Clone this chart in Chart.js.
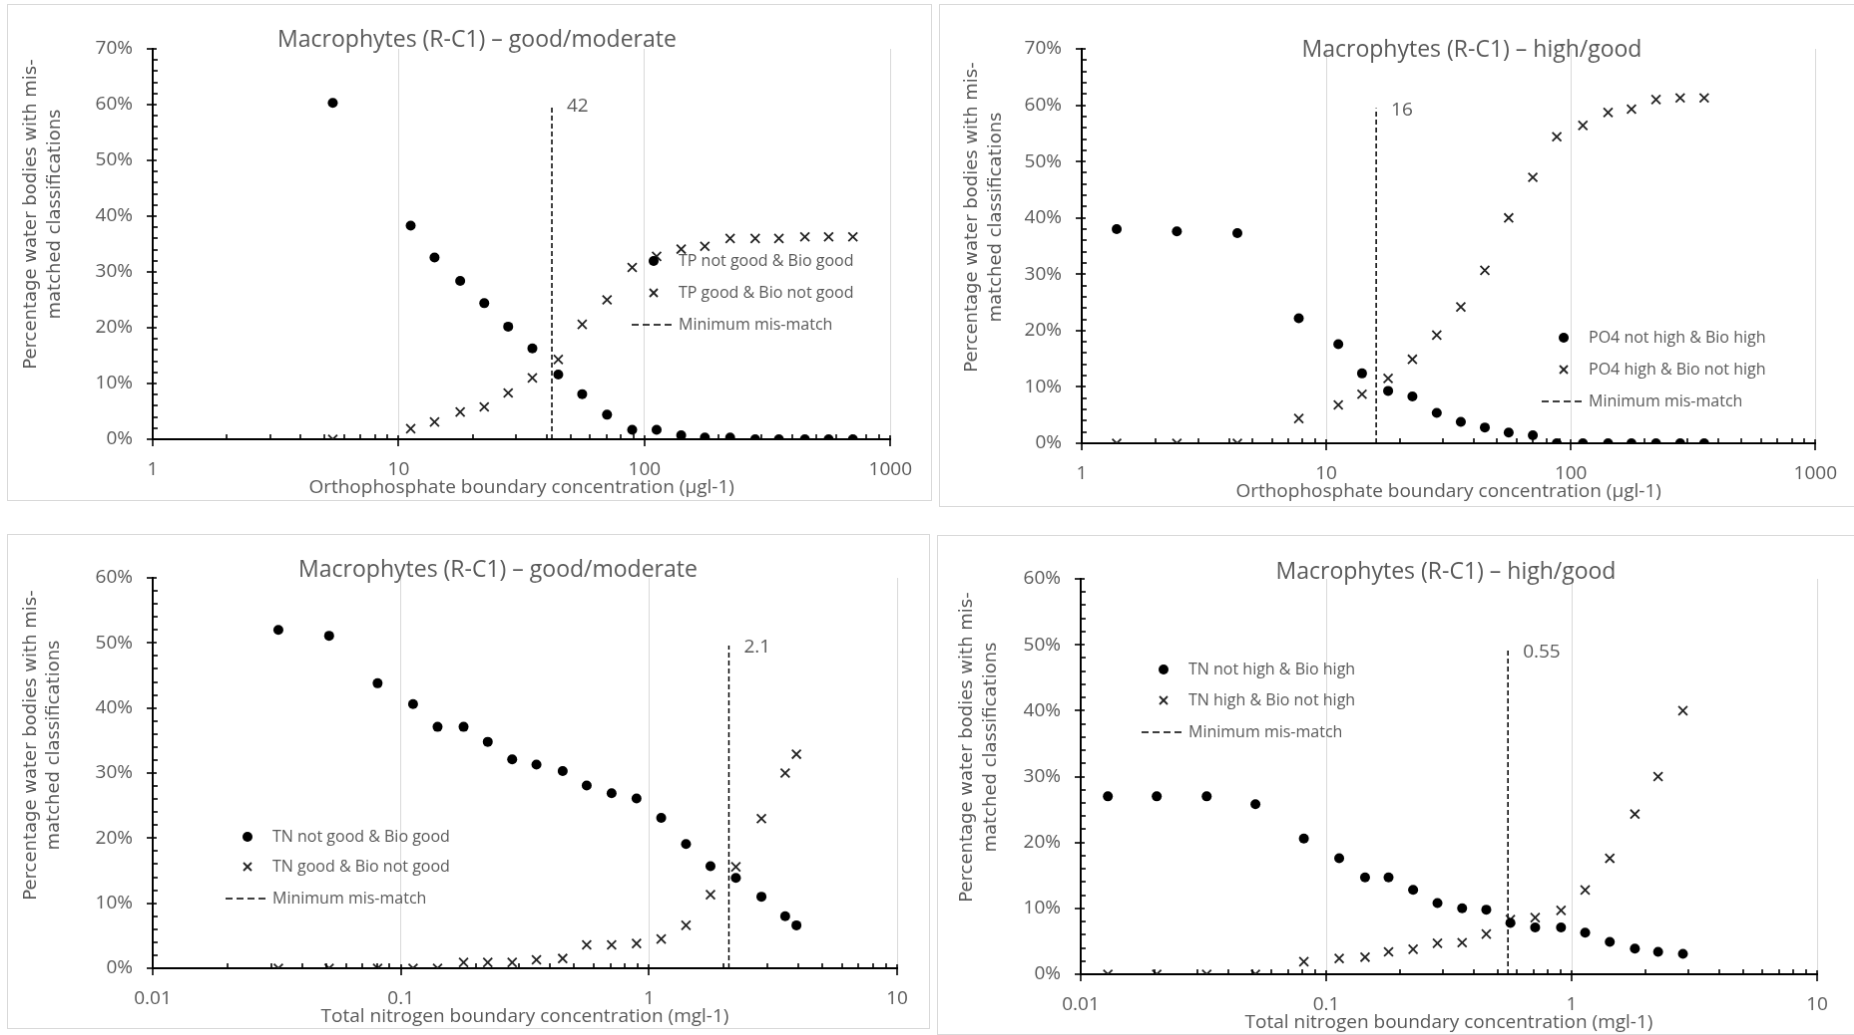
<!DOCTYPE html>
<html>
<head>
<meta charset="utf-8">
<title>Macrophytes mis-match</title>
<script src="https://cdn.jsdelivr.net/npm/chart.js@4.4.1/dist/chart.umd.min.js"></script>
<style>
  html, body { margin: 0; padding: 0; background: #fff; overflow: hidden; }
  body { width: 1854px; height: 1035px; position: relative; }
  canvas { position: absolute; border: 1px solid #d9d9d9; }
</style>
</head>
<body>
<canvas id="tpGood" width="925" height="497" style="left:7px;top:4px"></canvas>
<canvas id="tpHigh" width="918" height="503" style="left:939px;top:4px"></canvas>
<canvas id="tnGood" width="923" height="495" style="left:7px;top:534px"></canvas>
<canvas id="tnHigh" width="920" height="500" style="left:937px;top:535px"></canvas>
<script>
// Mis-match charts: macrophytes vs nutrient boundaries

// Top left - orthophosphate, good/moderate
const tpGoodX = [5.4, 11.2, 14.0, 17.8, 22.3, 27.9, 35.0, 44.6, 55.8, 70.4, 89.1, 112, 141, 176, 223, 282, 352, 449, 561, 704];
const tpNotGoodBioGood = [60.3, 38.3, 32.6, 28.4, 24.4, 20.2, 16.3, 11.6, 8.1, 4.4, 1.7, 1.7, 0.7, 0.3, 0.3, 0, 0, 0, 0, 0];
const tpGoodBioNotGood = [0, 1.9, 3.1, 4.9, 5.8, 8.3, 11.0, 14.3, 20.6, 25.0, 30.8, 32.8, 34.1, 34.6, 36.0, 36.0, 36.0, 36.3, 36.3, 36.3];
const tpGoodMin = [42, 60];

// Top right - orthophosphate, high/good
const tpHighX = [1.39, 2.45, 4.33, 7.72, 11.2, 14.0, 17.9, 22.5, 28.3, 35.5, 44.5, 55.7, 69.9, 87.6, 112, 142, 177, 223, 280, 351];
const po4NotHighBioHigh = [38.0, 37.6, 37.3, 22.2, 17.6, 12.4, 9.3, 8.3, 5.4, 3.8, 2.8, 1.9, 1.4, 0, 0, 0, 0, 0, 0, 0];
const po4HighBioNotHigh = [0, 0, 0, 4.4, 6.8, 8.7, 11.5, 14.9, 19.2, 24.2, 30.7, 40.0, 47.2, 54.4, 56.4, 58.7, 59.3, 61.0, 61.3, 61.3];
const tpHighMin = [16, 59.5];

// Bottom left - total nitrogen, good/moderate
const tnGoodX = [0.0321, 0.0514, 0.0806, 0.112, 0.1406, 0.179, 0.224, 0.281, 0.352, 0.449, 0.561, 0.707, 0.891, 1.12, 1.41, 1.77, 2.24, 2.84, 3.54, 3.93];
const tnNotGoodBioGood = [52.0, 51.1, 43.8, 40.6, 37.1, 37.1, 34.8, 32.1, 31.3, 30.3, 28.1, 26.9, 26.1, 23.1, 19.1, 15.7, 13.9, 11.0, 8.0, 6.6];
const tnGoodBioNotGood = [0, 0, 0, 0, 0, 0.9, 0.9, 0.9, 1.3, 1.5, 3.6, 3.6, 3.8, 4.5, 6.6, 11.3, 15.6, 23.0, 30.0, 32.9];
const tnGoodMin = [2.1, 49.6];

// Bottom right - total nitrogen, high/good
const tnHighX = [0.0129, 0.0204, 0.0326, 0.0515, 0.0811, 0.113, 0.144, 0.1795, 0.226, 0.284, 0.358, 0.449, 0.563, 0.710, 0.905, 1.135, 1.43, 1.81, 2.25, 2.84];
const tnNotHighBioHigh = [27.0, 27.0, 27.0, 25.8, 20.6, 17.6, 14.7, 14.7, 12.8, 10.8, 10.0, 9.8, 7.8, 7.1, 7.1, 6.3, 4.9, 3.9, 3.4, 3.1];
const tnHighBioNotHigh = [0, 0, 0, 0, 1.9, 2.4, 2.6, 3.4, 3.8, 4.7, 4.8, 6.1, 8.3, 8.6, 9.7, 12.8, 17.6, 24.3, 30.0, 40.0];
const tnHighMin = [0.55, 49.2];

// Axis ticks
const phosTicks = [1, 10, 100, 1000];
const nitroTicks = [0.01, 0.1, 1, 10];

const yTitle = ['Percentage water bodies with mis-', 'matched classifications'];
const phosTitle = 'Orthophosphate boundary concentration (µgl-1)';
const nitroTitle = 'Total nitrogen boundary concentration (mgl-1)';

const GREY = '#595959';
Chart.defaults.font.family = "'Open Sans', sans-serif";
Chart.defaults.color = GREY;

function toPoints(xs, ys) {
    return xs.map((x, i) => ({ x: x, y: ys[i] }));
}

function line(ctx, x1, y1, x2, y2) {
    ctx.beginPath();
    ctx.moveTo(x1, y1);
    ctx.lineTo(x2, y2);
    ctx.stroke();
}

// Extra drawing: tick marks, title, y title, legend, boundary label
const decorPlugin = {
    id: 'decor',
    afterDraw(chart, args, opts) {
        const ctx = chart.ctx;
        const xs = chart.scales.x;
        const ys = chart.scales.y;
        const area = chart.chartArea;
        ctx.save();

        // log axis tick marks
        ctx.strokeStyle = '#000';
        ctx.lineWidth = 1.6;
        const lo = Math.round(Math.log10(xs.min));
        const hi = Math.round(Math.log10(xs.max));
        for (let e = lo; e <= hi; e++) {
            const d = Math.pow(10, e);
            const px = Math.round(xs.getPixelForValue(d));
            line(ctx, px, area.bottom - 4, px, area.bottom + 7);
            if (e === hi) continue;
            for (let m = 2; m <= 9; m++) {
                const mx = Math.round(xs.getPixelForValue(d * m));
                line(ctx, mx, area.bottom - 5, mx, area.bottom);
            }
        }
        // percentage axis tick marks
        for (let v = 0; v <= ys.max; v += 2) {
            const py = Math.round(ys.getPixelForValue(v));
            if (v % 10 === 0) {
                line(ctx, area.left - 6, py, area.left + 4, py);
            } else {
                line(ctx, area.left, py, area.left + 5, py);
            }
        }

        ctx.fillStyle = GREY;
        ctx.textBaseline = 'middle';

        // chart title
        ctx.font = "23px 'Open Sans', sans-serif";
        ctx.textAlign = 'center';
        ctx.fillText(opts.title, opts.titleX, opts.titleY);

        // two-line y title
        ctx.font = "18px 'DejaVu Sans', sans-serif";
        yTitle.forEach((t, i) => {
            ctx.save();
            ctx.translate(opts.yTitleX[i], opts.yTitleY);
            ctx.rotate(-Math.PI / 2);
            ctx.fillText(t, 0, 0);
            ctx.restore();
        });

        // boundary label beside the dashed line
        const minSet = chart.data.datasets[2].data;
        ctx.font = "19px 'Open Sans', sans-serif";
        ctx.textAlign = 'left';
        ctx.fillText(String(minSet[1].x), xs.getPixelForValue(minSet[1].x) + 15, ys.getPixelForValue(minSet[1].y) + 2);

        // legend
        ctx.font = "16px 'Open Sans', sans-serif";
        chart.data.datasets.forEach((ds, i) => {
            const ly = opts.legendY[i];
            const mx = opts.legendX;
            if (i === 0) {
                ctx.fillStyle = '#000';
                ctx.beginPath();
                ctx.arc(mx, ly, 5, 0, Math.PI * 2);
                ctx.fill();
            } else if (i === 1) {
                ctx.strokeStyle = '#222';
                ctx.lineWidth = 1.8;
                line(ctx, mx - 4, ly - 4, mx + 4, ly + 4);
                line(ctx, mx - 4, ly + 4, mx + 4, ly - 4);
            } else {
                ctx.strokeStyle = '#000';
                ctx.lineWidth = 1.5;
                ctx.setLineDash([7, 4]);
                line(ctx, mx - 22, ly, mx + 19, ly);
                ctx.setLineDash([]);
            }
            ctx.fillStyle = GREY;
            ctx.fillText(ds.label, opts.legendX + 25, ly);
        });

        ctx.restore();
    }
};

function makeChart(id, p) {
    const canvas = document.getElementById(id);
    const W = canvas.width;
    const H = canvas.height;
    const xH = 60;
    const yW = 60;
    return new Chart(canvas, {
        type: 'scatter',
        data: {
            datasets: [{
                label: p.labels[0],
                data: toPoints(p.xs, p.dots),
                pointStyle: 'circle',
                pointRadius: 5,
                backgroundColor: '#000',
                borderColor: '#000',
                borderWidth: 0
            }, {
                label: p.labels[1],
                data: toPoints(p.xs, p.crosses),
                pointStyle: 'crossRot',
                pointRadius: 6.3,
                borderColor: '#222',
                borderWidth: 1.8
            }, {
                label: 'Minimum mis-match',
                data: [{ x: p.min[0], y: 0 }, { x: p.min[0], y: p.min[1] }],
                showLine: true,
                borderColor: '#000',
                borderWidth: 1.5,
                borderDash: [5, 3],
                pointRadius: 0
            }]
        },
        options: {
            responsive: false,
            animation: false,
            events: [],
            layout: {
                padding: {
                    left: p.area[0] - yW,
                    top: p.area[1],
                    right: W - p.area[2],
                    bottom: H - p.area[3] - xH
                }
            },
            plugins: {
                legend: { display: false },
                tooltip: { enabled: false },
                decor: {
                    title: p.title,
                    titleX: p.titlePos[0],
                    titleY: p.titlePos[1],
                    yTitleX: p.yTitlePos.slice(0, 2),
                    yTitleY: p.yTitlePos[2],
                    legendX: p.legendPos[0],
                    legendY: p.legendPos.slice(1)
                }
            },
            scales: {
                x: {
                    type: 'logarithmic',
                    min: p.ticks[0],
                    max: p.ticks[p.ticks.length - 1],
                    afterBuildTicks: (s) => { s.ticks = p.ticks.map(v => ({ value: v })); },
                    afterFit: (s) => { s.height = xH; },
                    grid: { color: '#d9d9d9', lineWidth: 1, drawTicks: false },
                    border: { color: '#000', width: 2 },
                    ticks: {
                        padding: 19,
                        autoSkip: false,
                        maxRotation: 0,
                        font: { size: 19 },
                        color: GREY,
                        callback: (v) => String(v)
                    },
                    title: {
                        display: true,
                        text: p.xTitle,
                        font: { size: 19 },
                        color: GREY,
                        padding: 0
                    }
                },
                y: {
                    min: 0,
                    max: p.yMax,
                    afterFit: (s) => { s.width = yW; },
                    grid: { drawOnChartArea: false, drawTicks: false },
                    border: { color: '#000', width: 2 },
                    ticks: {
                        stepSize: 10,
                        padding: 20,
                        font: { size: 19 },
                        color: GREY,
                        callback: (v) => v + '%'
                    }
                }
            }
        },
        plugins: [decorPlugin]
    });
}

makeChart('tpGood', {
    xs: tpGoodX, dots: tpNotGoodBioGood, crosses: tpGoodBioNotGood, min: tpGoodMin,
    labels: ['TP not good & Bio good', 'TP good & Bio not good'],
    title: 'Macrophytes (R-C1) – good/moderate', xTitle: phosTitle, ticks: phosTicks, yMax: 70,
    area: [145, 44, 891, 436], titlePos: [470, 35], yTitlePos: [23, 47, 210], legendPos: [647, 257, 289, 321]
});

makeChart('tpHigh', {
    xs: tpHighX, dots: po4NotHighBioHigh, crosses: po4HighBioNotHigh, min: tpHighMin,
    labels: ['PO4 not high & Bio high', 'PO4 high & Bio not high'],
    title: 'Macrophytes (R-C1) – high/good', xTitle: phosTitle, ticks: phosTicks, yMax: 70,
    area: [142, 44, 880, 440], titlePos: [533, 45], yTitlePos: [32, 56, 213], legendPos: [625, 334, 366, 398]
});

makeChart('tnGood', {
    xs: tnGoodX, dots: tnNotGoodBioGood, crosses: tnGoodBioNotGood, min: tnGoodMin,
    labels: ['TN not good & Bio good', 'TN good & Bio not good'],
    title: 'Macrophytes (R-C1) – good/moderate', xTitle: nitroTitle, ticks: nitroTicks, yMax: 60,
    area: [145, 43, 891, 435], titlePos: [491, 35], yTitlePos: [23, 46, 211], legendPos: [240, 303, 333, 365]
});

makeChart('tnHigh', {
    xs: tnHighX, dots: tnNotHighBioHigh, crosses: tnHighBioNotHigh, min: tnHighMin,
    labels: ['TN not high & Bio high', 'TN high & Bio not high'],
    title: 'Macrophytes (R-C1) – high/good', xTitle: nitroTitle, ticks: nitroTicks, yMax: 60,
    area: [143, 43, 881, 440], titlePos: [509, 36], yTitlePos: [29, 53, 212], legendPos: [226, 134, 165, 197]
});
</script>
</body>
</html>
